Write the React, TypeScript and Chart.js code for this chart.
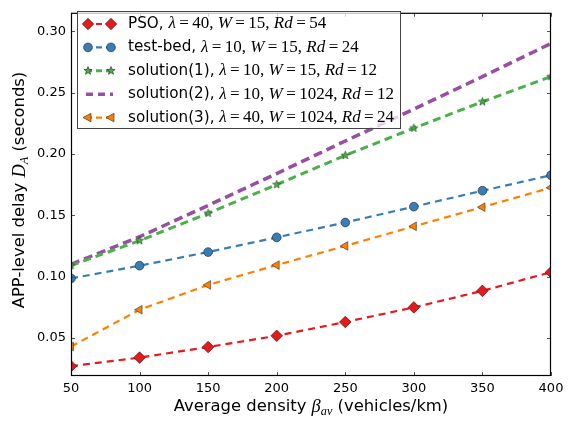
import React, { useEffect, useRef } from 'react';
import { Chart, registerables } from 'chart.js';

Chart.register(...registerables);

const densities = [50, 100, 150, 200, 250, 300, 350, 400];
const psoDelay = [0.027, 0.034, 0.0426, 0.0518, 0.063, 0.0749, 0.0884, 0.1036];
const testbedDelay = [0.0985, 0.1089, 0.120, 0.132, 0.1441, 0.157, 0.170, 0.1826];
const solution1Delay = [0.109, 0.1293, 0.1516, 0.175, 0.1988, 0.221, 0.2425, 0.263];
const solution2Delay = [0.110, 0.1325, 0.158, 0.184, 0.2105, 0.2365, 0.263, 0.290];
const solution3Delay = [0.043, 0.073, 0.0932, 0.1094, 0.125, 0.141, 0.1566, 0.1725];
const xTicks = [50, 100, 150, 200, 250, 300, 350, 400];
const yTicks = [0.05, 0.1, 0.15, 0.2, 0.25, 0.3];

type Seg = { t: string; m?: boolean; it?: boolean; sub?: boolean };

const legendLabels: Seg[][] = [
  [{ t: 'PSO, ' }, { t: 'λ', m: true, it: true }, { t: '\u2009=\u200940, ', m: true }, { t: 'W', m: true, it: true }, { t: '\u2009=\u200915, ', m: true }, { t: 'Rd', m: true, it: true }, { t: '\u2009=\u200954', m: true }],
  [{ t: 'test-bed, ' }, { t: 'λ', m: true, it: true }, { t: '\u2009=\u200910, ', m: true }, { t: 'W', m: true, it: true }, { t: '\u2009=\u200915, ', m: true }, { t: 'Rd', m: true, it: true }, { t: '\u2009=\u200924', m: true }],
  [{ t: 'solution(1), ' }, { t: 'λ', m: true, it: true }, { t: '\u2009=\u200910, ', m: true }, { t: 'W', m: true, it: true }, { t: '\u2009=\u200915, ', m: true }, { t: 'Rd', m: true, it: true }, { t: '\u2009=\u200912', m: true }],
  [{ t: 'solution(2), ' }, { t: 'λ', m: true, it: true }, { t: '\u2009=\u200910, ', m: true }, { t: 'W', m: true, it: true }, { t: '\u2009=\u20091024, ', m: true }, { t: 'Rd', m: true, it: true }, { t: '\u2009=\u200912', m: true }],
  [{ t: 'solution(3), ' }, { t: 'λ', m: true, it: true }, { t: '\u2009=\u200940, ', m: true }, { t: 'W', m: true, it: true }, { t: '\u2009=\u20091024, ', m: true }, { t: 'Rd', m: true, it: true }, { t: '\u2009=\u200924', m: true }],
];

const xTitle: Seg[] = [{ t: 'Average density ' }, { t: 'β', m: true, it: true }, { t: 'av', m: true, it: true, sub: true }, { t: ' (vehicles/km)' }];
const yTitle: Seg[] = [{ t: 'APP-level delay ' }, { t: 'D', m: true, it: true }, { t: 'A', m: true, it: true, sub: true }, { t: ' (seconds)' }];

const RED = '#e41a1c';
const BLUE = '#377eb8';
const GREEN = '#4daf4a';
const PURPLE = '#984ea3';
const ORANGE = '#ff7f00';

function fontFor(s: Seg, size: number) {
  if (s.sub) return `${s.it ? 'italic ' : ''}${size * 0.75}px "Liberation Serif"`;
  if (s.m) return `${s.it ? 'italic ' : ''}${size * 1.12}px "Liberation Serif"`;
  return `${size}px "DejaVu Sans"`;
}

function segWidth(ctx: CanvasRenderingContext2D, segs: Seg[], size: number) {
  let w = 0;
  for (const s of segs) {
    ctx.font = fontFor(s, size);
    w += ctx.measureText(s.t).width;
  }
  return w;
}

function drawSegs(ctx: CanvasRenderingContext2D, segs: Seg[], x: number, y: number, size: number) {
  let cx = x;
  ctx.textBaseline = 'middle';
  ctx.textAlign = 'left';
  for (const s of segs) {
    ctx.font = fontFor(s, size);
    ctx.fillText(s.t, cx, s.sub ? y + size * 0.3 : y);
    cx += ctx.measureText(s.t).width;
  }
  return cx - x;
}

function makeStar(fill: string, r: number) {
  const c = document.createElement('canvas');
  const size = Math.ceil(r * 2 + 2);
  c.width = size;
  c.height = size;
  const g = c.getContext('2d')!;
  drawStarPath(g, size / 2, size / 2, r);
  g.fillStyle = fill;
  g.fill();
  g.lineWidth = 0.6;
  g.strokeStyle = '#1a3d1a';
  g.stroke();
  return c;
}

function drawStarPath(g: CanvasRenderingContext2D, cx: number, cy: number, r: number) {
  g.beginPath();
  for (let i = 0; i < 10; i++) {
    const rad = i % 2 === 0 ? r : r * 0.42;
    const a = -Math.PI / 2 + (i * Math.PI) / 5;
    const px = cx + rad * Math.cos(a);
    const py = cy + rad * Math.sin(a);
    if (i === 0) g.moveTo(px, py);
    else g.lineTo(px, py);
  }
  g.closePath();
}

function drawMarker(ctx: CanvasRenderingContext2D, kind: string, x: number, y: number, color: string) {
  ctx.save();
  ctx.fillStyle = color;
  ctx.strokeStyle = '#222';
  ctx.lineWidth = 0.6;
  ctx.setLineDash([]);
  ctx.beginPath();
  if (kind === 'diamond') {
    const r = 5.8;
    ctx.moveTo(x, y - r);
    ctx.lineTo(x + r, y);
    ctx.lineTo(x, y + r);
    ctx.lineTo(x - r, y);
    ctx.closePath();
  } else if (kind === 'circle') {
    ctx.arc(x, y, 4.4, 0, Math.PI * 2);
  } else if (kind === 'star') {
    drawStarPath(ctx, x, y, 4.3);
  } else if (kind === 'tri') {
    const r = 5;
    ctx.moveTo(x - r, y);
    ctx.lineTo(x + r * 0.6, y - r * 0.85);
    ctx.lineTo(x + r * 0.6, y + r * 0.85);
    ctx.closePath();
  } else {
    ctx.restore();
    return;
  }
  ctx.fill();
  ctx.stroke();
  ctx.restore();
}

const legendItems = [
  { color: RED, marker: 'diamond', width: 2.2, dash: [6, 4] },
  { color: BLUE, marker: 'circle', width: 2.2, dash: [6, 4] },
  { color: GREEN, marker: 'star', width: 3, dash: [6, 4] },
  { color: PURPLE, marker: 'none', width: 3.5, dash: [7, 5] },
  { color: ORANGE, marker: 'tri', width: 2.2, dash: [6, 4] },
];

const framePlugin = {
  id: 'mplFrame',
  beforeDatasetsDraw(chart: any) {
    const ctx: CanvasRenderingContext2D = chart.ctx;
    const { left, right, top, bottom } = chart.chartArea;
    ctx.save();
    ctx.fillStyle = '#ffffff';
    ctx.fillRect(left, top, right - left, bottom - top);
    ctx.restore();
  },
  afterDatasetsDraw(chart: any) {
    const ctx: CanvasRenderingContext2D = chart.ctx;
    const { left, right, top, bottom } = chart.chartArea;
    const xs = chart.scales.x;
    const ys = chart.scales.y;
    ctx.save();
    ctx.strokeStyle = '#555';
    ctx.lineWidth = 1;
    ctx.setLineDash([]);
    const tl = 4;
    for (const v of xTicks) {
      const px = Math.round(xs.getPixelForValue(v)) + 0.5;
      ctx.beginPath();
      ctx.moveTo(px, bottom);
      ctx.lineTo(px, bottom - tl);
      ctx.moveTo(px, top);
      ctx.lineTo(px, top + tl);
      ctx.stroke();
    }
    for (const v of yTicks) {
      const py = Math.round(ys.getPixelForValue(v)) + 0.5;
      ctx.beginPath();
      ctx.moveTo(left, py);
      ctx.lineTo(left + tl, py);
      ctx.moveTo(right, py);
      ctx.lineTo(right - tl, py);
      ctx.stroke();
    }
    ctx.strokeStyle = '#000';
    ctx.lineWidth = 1.2;
    ctx.strokeRect(left + 0.5, top + 0.5, right - left - 1, bottom - top - 1);

    // legend
    const lx = 77, ly = 11, lw = 323, lh = 117;
    ctx.fillStyle = 'rgba(255,255,255,0.75)';
    ctx.fillRect(lx, ly, lw, lh);
    ctx.strokeStyle = '#444';
    ctx.lineWidth = 1;
    ctx.strokeRect(lx + 0.5, ly + 0.5, lw, lh);
    legendItems.forEach((it, i) => {
      const cy = 24 + i * 23.4;
      ctx.save();
      ctx.strokeStyle = it.color;
      ctx.lineWidth = it.width;
      ctx.setLineDash(it.dash);
      ctx.beginPath();
      ctx.moveTo(86, cy);
      ctx.lineTo(113, cy);
      ctx.stroke();
      ctx.restore();
      drawMarker(ctx, it.marker, 88, cy, it.color);
      drawMarker(ctx, it.marker, 111, cy, it.color);
      ctx.fillStyle = '#000';
      drawSegs(ctx, legendLabels[i], 128, cy, 15.2);
    });

    // axis titles
    ctx.fillStyle = '#000';
    const xs2 = 16.4;
    const xw = segWidth(ctx, xTitle, xs2);
    drawSegs(ctx, xTitle, (left + right) / 2 - xw / 2, 407, xs2);
    const yw = segWidth(ctx, yTitle, xs2);
    ctx.save();
    ctx.translate(20, 190);
    ctx.rotate(-Math.PI / 2);
    drawSegs(ctx, yTitle, -yw / 2, 0, xs2);
    ctx.restore();
    ctx.restore();
  },
};

export default function App() {
  const ref = useRef<HTMLCanvasElement | null>(null);
  useEffect(() => {
    document.body.style.margin = '0';
    const canvas = ref.current!;
    const star = makeStar(GREEN, 4.3);
    const mk = (vals: number[]) => densities.map((d, i) => ({ x: d, y: vals[i] }));
    const chart = new Chart(canvas, {
      type: 'line',
      data: {
        datasets: [
          { label: 'solution(2)', data: mk(solution2Delay), borderColor: PURPLE, backgroundColor: PURPLE, borderWidth: 3.5, borderDash: [9, 5], pointRadius: 0, clip: 0, order: 4 },
          { label: 'solution(1)', data: mk(solution1Delay), borderColor: GREEN, backgroundColor: GREEN, borderWidth: 3, borderDash: [8, 5], pointStyle: star as any, pointRadius: 4.3, clip: 0, order: 3 },
          { label: 'solution(3)', data: mk(solution3Delay), borderColor: ORANGE, backgroundColor: ORANGE, borderWidth: 2.2, borderDash: [7, 5], pointStyle: 'triangle', rotation: -90, pointRadius: 5, pointBorderColor: '#333', pointBorderWidth: 0.6, clip: 0, order: 2 },
          { label: 'test-bed', data: mk(testbedDelay), borderColor: BLUE, backgroundColor: BLUE, borderWidth: 2.2, borderDash: [7, 5], pointStyle: 'circle', pointRadius: 4.4, pointBorderColor: '#222', pointBorderWidth: 0.6, clip: 0, order: 1 },
          { label: 'PSO', data: mk(psoDelay), borderColor: RED, backgroundColor: RED, borderWidth: 2.2, borderDash: [7, 5], pointStyle: 'rectRot', pointRadius: 5.8, pointBorderColor: '#400', pointBorderWidth: 0.6, clip: 0, order: 0 },
        ] as any,
      },
      options: {
        responsive: false,
        animation: false,
        layout: { padding: { top: 4, right: 34, left: 0, bottom: 0 } },
        plugins: { legend: { display: false }, tooltip: { enabled: false } },
        elements: { line: { tension: 0 } },
        scales: {
          x: {
            type: 'linear',
            min: 50,
            max: 400,
            grid: { display: false, drawTicks: false },
            border: { display: false },
            ticks: { padding: 5, color: '#000', font: { family: 'DejaVu Sans', size: 13 }, maxRotation: 0 },
            afterBuildTicks: (s: any) => { s.ticks = xTicks.map((v) => ({ value: v })); },
            afterFit: (s: any) => { s.height = 48; },
          },
          y: {
            type: 'linear',
            min: 0.019,
            max: 0.315,
            grid: { display: false, drawTicks: false },
            border: { display: false },
            ticks: { padding: 5, color: '#000', font: { family: 'DejaVu Sans', size: 13 }, callback: (v: any) => Number(v).toFixed(2) },
            afterBuildTicks: (s: any) => { s.ticks = yTicks.map((v) => ({ value: v })); },
            afterFit: (s: any) => { s.width = 71; },
          },
        },
      } as any,
      plugins: [framePlugin],
    });
    return () => chart.destroy();
  }, []);
  return <canvas ref={ref} width={585} height={424} style={{ display: 'block' }} />;
}
